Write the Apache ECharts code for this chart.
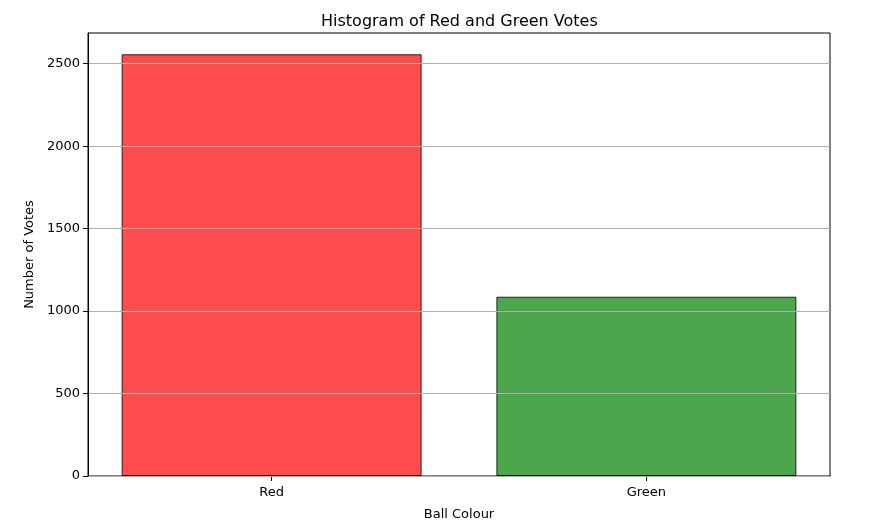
<!DOCTYPE html>
<html>
<head>
<meta charset="UTF-8">
<title>Histogram of Red and Green Votes</title>
<script src="https://cdn.jsdelivr.net/npm/echarts@6/dist/echarts.min.js"></script>
<style>
  html, body { margin: 0; padding: 0; background: #fff; }
  #chart { width: 875px; height: 530px; }
</style>
</head>
<body>
<div id="chart"></div>
<script>
// data
var colours = ['Red', 'Green'];
var votes = [2557, 1087];
var barColours = ['rgba(255,0,0,0.7)', 'rgba(0,128,0,0.7)'];
var yTicks = [0, 500, 1000, 1500, 2000, 2500];

var font = 'DejaVu Sans';
var chart = echarts.init(document.getElementById('chart'));

var barData = [];
for (var i = 0; i < votes.length; i++) {
  barData.push({
    value: [i, votes[i]],
    itemStyle: { color: barColours[i] }
  });
}
var xPos = colours.map(function (c, i) { return i; });

chart.setOption({
  animation: false,
  title: {
    text: 'Histogram of Red and Green Votes',
    left: 316,
    top: 9,
    textStyle: { fontFamily: font, fontSize: 16, fontWeight: 'normal', color: '#000' }
  },
  grid: {
    left: 88, right: 45, top: 33, bottom: 54,
    show: true, borderColor: '#000', borderWidth: 1, backgroundColor: 'transparent'
  },
  xAxis: {
    type: 'value',
    min: -0.49,
    max: 1.49,
    name: 'Ball Colour',
    nameLocation: 'middle',
    nameGap: 32,
    nameTextStyle: { fontFamily: font, fontSize: 13, color: '#000' },
    axisLine: { show: true, onZero: false, lineStyle: { color: '#000' } },
    axisTick: { show: true, length: 5, lineStyle: { color: '#000' }, customValues: xPos },
    axisLabel: {
      fontFamily: font, fontSize: 13, color: '#000', margin: 10,
      customValues: xPos,
      formatter: function (v) { return colours[Math.round(v)]; }
    },
    splitLine: { show: false }
  },
  yAxis: {
    type: 'value',
    min: 0,
    max: 2686,
    z: 5,
    name: 'Number of Votes',
    nameLocation: 'middle',
    nameGap: 44,
    nameTextStyle: { fontFamily: font, fontSize: 13, color: '#000' },
    axisLine: { show: true, onZero: false, lineStyle: { color: '#000' } },
    axisTick: { show: true, length: 5, lineStyle: { color: '#000' }, customValues: yTicks },
    axisLabel: {
      fontFamily: font, fontSize: 13, color: '#000', margin: 8, customValues: yTicks,
      formatter: function (v) { return String(v); }
    },
    splitLine: { show: true, lineStyle: { color: '#b0b0b0', width: 1 } }
  },
  series: [{
    type: 'bar',
    data: barData,
    barWidth: 300,
    itemStyle: { borderColor: 'rgba(0,0,0,0.8)', borderWidth: 1 }
  }]
});
</script>
</body>
</html>
